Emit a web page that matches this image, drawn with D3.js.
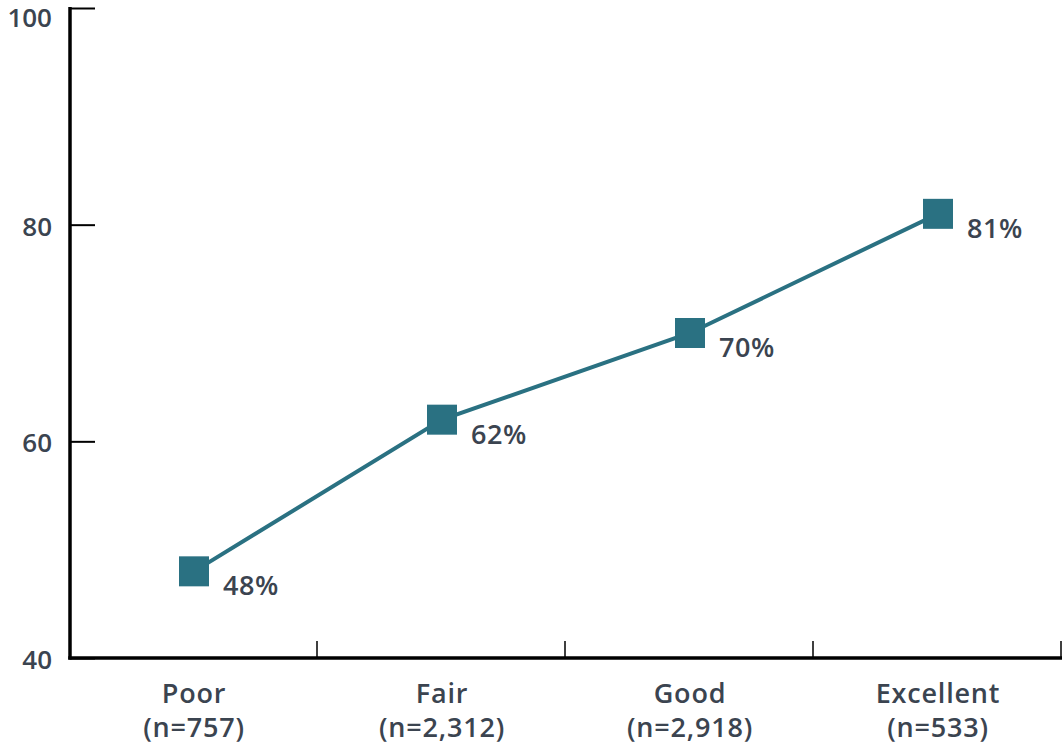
<!DOCTYPE html>
<html>
<head>
<meta charset="utf-8">
<script src="https://cdn.jsdelivr.net/npm/d3@7"></script>
<style>
  body { margin: 0; background: #fff; }
  text { font-family: "Open Sans", "Noto Sans", sans-serif; font-weight: 600; fill: #3b4450; }
</style>
</head>
<body>
<svg id="chart" width="1064" height="746"></svg>
<script>
var categories = ["Poor", "Fair", "Good", "Excellent"];
var counts = ["(n=757)", "(n=2,312)", "(n=2,918)", "(n=533)"];
var values = [48, 62, 70, 81];
var yTicks = [40, 60, 80, 100];

var svg = d3.select("#chart"),
    margin = {top: 8, right: 2, bottom: 88, left: 70},
    width = +svg.attr("width"),
    height = +svg.attr("height");

var x = d3.scaleBand()
    .domain(categories)
    .range([margin.left, width - margin.right]);

var y = d3.scaleLinear()
    .domain([40, 100])
    .range([height - margin.bottom, margin.top]);

var lineColor = "#2a7182";

// y axis: ticks point inward
var yAxis = svg.append("g")
    .attr("transform", "translate(" + margin.left + ",0)")
    .call(d3.axisRight(y).tickValues(yTicks).tickSize(25).tickSizeOuter(0).tickFormat(d3.format("d")));
yAxis.select(".domain").remove();
yAxis.selectAll(".tick line").attr("stroke", "#000").attr("stroke-width", 2);
yAxis.selectAll(".tick text")
    .attr("x", -18)
    .attr("dy", function(d) { return d === 100 ? "0.72em" : "0.4em"; })
    .attr("text-anchor", "end")
    .style("font-size", "26px");
svg.append("line")
    .attr("x1", margin.left).attr("x2", margin.left)
    .attr("y1", y(100) - 1).attr("y2", y(40) + 1.5)
    .attr("stroke", "#000").attr("stroke-width", 3.5);

// x axis: separators between bands
var seps = categories.map(function(d) { return x(d) + x.bandwidth(); });
svg.append("g").selectAll("line")
    .data(seps)
    .enter().append("line")
    .attr("x1", function(d) { return d - 1; })
    .attr("x2", function(d) { return d - 1; })
    .attr("y1", y(40) - 17)
    .attr("y2", y(40))
    .attr("stroke", "#000").attr("stroke-width", 1.5);
svg.append("line")
    .attr("x1", margin.left - 1.75).attr("x2", width - margin.right)
    .attr("y1", y(40)).attr("y2", y(40))
    .attr("stroke", "#000").attr("stroke-width", 3.5);

var labels = svg.append("g").selectAll("text")
    .data(categories)
    .enter().append("text")
    .attr("text-anchor", "middle")
    .style("font-size", "27px")
    .style("letter-spacing", "0.8px")
    .attr("transform", function(d) { return "translate(" + (x(d) + x.bandwidth() / 2) + ",0)"; });
labels.append("tspan").attr("x", 0).attr("y", 703).text(function(d) { return d; });
labels.append("tspan").attr("x", 0).attr("y", 737).text(function(d, i) { return counts[i]; });

// line + markers
var pts = categories.map(function(c, i) { return [x(c) + x.bandwidth() / 2, y(values[i])]; });

svg.append("path")
    .attr("d", d3.line()(pts))
    .attr("fill", "none")
    .attr("stroke", lineColor)
    .attr("stroke-width", 4);

svg.append("g").selectAll("rect")
    .data(pts)
    .enter().append("rect")
    .attr("x", function(d) { return d[0] - 15; })
    .attr("y", function(d) { return d[1] - 15; })
    .attr("width", 30)
    .attr("height", 30)
    .attr("fill", lineColor);

svg.append("g").selectAll("text")
    .data(pts)
    .enter().append("text")
    .attr("x", function(d) { return d[0] + 29; })
    .attr("y", function(d) { return d[1] + 24; })
    .style("font-size", "27px")
    .style("letter-spacing", "0.5px")
    .text(function(d, i) { return values[i] + "%"; });
</script>
</body>
</html>
